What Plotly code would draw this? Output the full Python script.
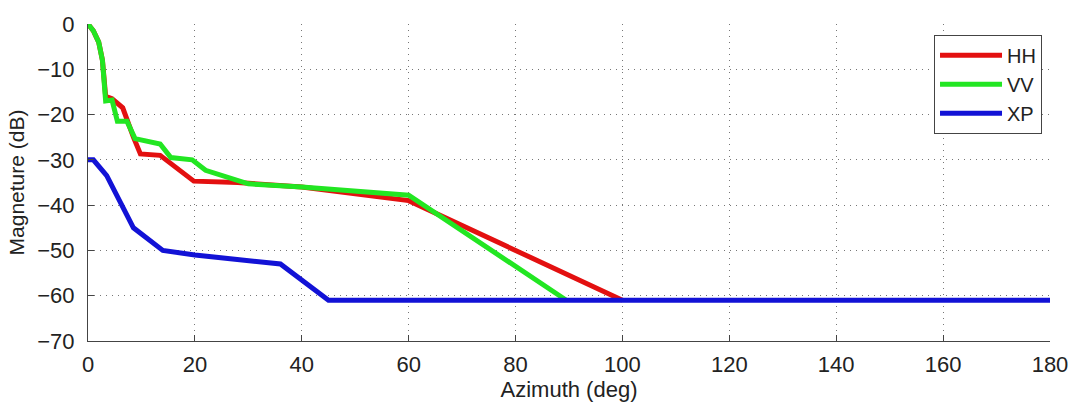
import plotly.graph_objects as go

# ---- data ----
hh_x = [0, 1, 2, 2.7, 3.3, 4.5, 6.5, 7.5, 8.5, 9.8, 13.5, 19.8, 28, 40, 60, 100]
hh_y = [0, -1.5, -4, -8, -16, -16.5, -18.5, -22, -25, -28.7, -29, -34.7, -35, -36, -39, -61]

vv_x = [0, 1, 2, 2.7, 3.3, 4.5, 5.5, 7.3, 8.8, 13.5, 15.5, 19.5, 22, 30, 40, 60, 89.5]
vv_y = [0, -1.5, -4, -8, -17, -16.8, -21.5, -21.5, -25.3, -26.5, -29.5, -30, -32.3, -35.3, -36, -37.8, -61]

xp_x = [0, 1, 3.5, 8.5, 14, 20, 36, 45, 180]
xp_y = [-30, -30, -33.5, -45, -50, -51, -53, -61, -61]

series_names = ["HH", "VV", "XP"]
series_colors = ["#e31010", "#22e622", "#1212d6"]

x_ticks = [0, 20, 40, 60, 80, 100, 120, 140, 160, 180]
y_ticks = [0, -10, -20, -30, -40, -50, -60, -70]

FONT = "Liberation Sans, Arial, Helvetica, sans-serif"

fig = go.Figure()
for name, xs, ys, col in zip(series_names, [hh_x, vv_x, xp_x], [hh_y, vv_y, xp_y], series_colors):
    fig.add_trace(go.Scatter(x=xs, y=ys, mode="lines", name=name,
                             line=dict(color=col, width=5)))

axis_common = dict(
    showline=True, linecolor="#444", linewidth=1,
    ticks="inside", ticklen=6, tickwidth=1, tickcolor="#444",
    showgrid=True, gridcolor="#777", gridwidth=1, griddash="1px,5px",
    zeroline=False, mirror=False,
    tickfont=dict(family=FONT, size=22, color="#222"),
)

fig.update_xaxes(range=[0, 180], tickvals=x_ticks, ticklabelstandoff=4, **axis_common,
                 title=dict(text="Azimuth (deg)", font=dict(family=FONT, size=22, color="#222"), standoff=0))
fig.update_yaxes(range=[-70, 0], tickvals=y_ticks, ticklabelstandoff=8, **axis_common,
                 title=dict(text="Magneture (dB)", font=dict(family=FONT, size=21, color="#222"), standoff=6))

fig.update_layout(
    width=1080, height=405,
    margin=dict(l=88, r=30, t=19, b=63),
    paper_bgcolor="white", plot_bgcolor="white",
    showlegend=True,
    legend=dict(x=0.9917, y=0.966, xanchor="right", yanchor="top",
                bgcolor="white", bordercolor="#444", borderwidth=1,
                font=dict(family=FONT, size=20, color="#222"),
                itemwidth=62, tracegroupgap=0),
)

fig.write_html("out.html")
